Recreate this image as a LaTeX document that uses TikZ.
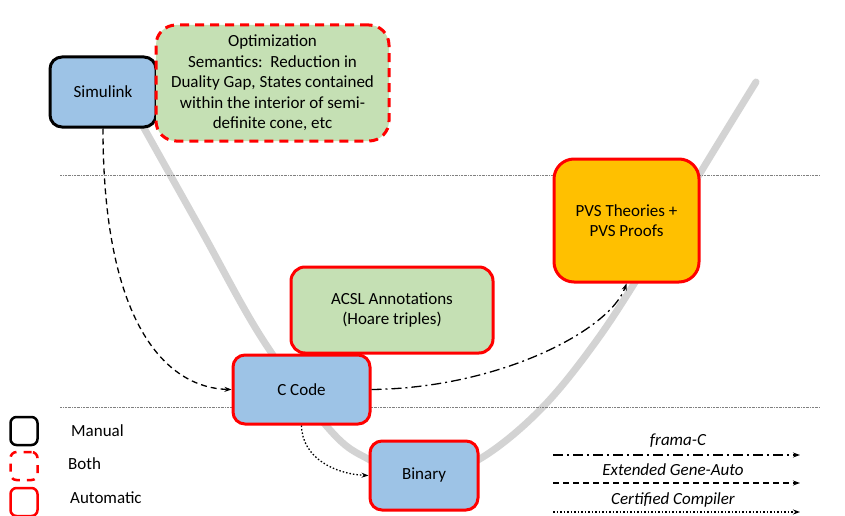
\documentclass[tikz,border=0pt]{standalone}
\usepackage{fontspec}
\setmainfont{Carlito}
\usetikzlibrary{arrows.meta}
\definecolor{bblue}{HTML}{9DC3E6}
\definecolor{bgreen}{HTML}{C5E0B4}
\definecolor{borange}{HTML}{FFC000}
\definecolor{bred}{HTML}{FF0000}
\definecolor{vgray}{HTML}{D3D3D3}
\begin{document}
\begin{tikzpicture}[x=1pt,y=-1pt,
  every node/.style={font=\fontsize{17}{20.5}\selectfont},
  box/.style={draw, line width=3pt, rounded corners=12pt, align=center, inner sep=0pt},
  manualbox/.style={box, draw=black},
  autobox/.style={box, draw=bred},
  bothbox/.style={box, draw=bred, dash pattern=on 9pt off 6pt},
  sep/.style={draw=gray, line width=0.6pt, dash pattern=on 2pt off 1pt on 0.5pt off 1pt},
  flow/.style={line width=1.3pt, -{Stealth[length=7pt,width=5pt]}},
  fdashdot/.style={flow, dash pattern=on 10pt off 4pt on 2pt off 4pt},
  fdashed/.style={flow, dash pattern=on 6pt off 4pt},
  fdotted/.style={flow, dash pattern=on 1.5pt off 2pt},
  lbl/.style={anchor=west, inner sep=0pt}
]
\useasboundingbox (0,0) rectangle (845,516);
% V curve
\draw[vgray, line width=7pt, line cap=round]
  plot[smooth, tension=0.6] coordinates {(135,112) (200,228) (263,340) (330,430) (370,460) (420,480) (478,460) (540,410) (597,340) (650,258) (699,175) (756,82)};
% separators
\coordinate (s1a) at (60,175); \coordinate (s1b) at (820,175);
\coordinate (s2a) at (60,407); \coordinate (s2b) at (820,407);
\draw[sep] (s1a) -- (s1b);
\draw[sep] (s2a) -- (s2b);
% boxes
\node[manualbox, fill=bblue, minimum width=106pt, minimum height=70pt] (sim) at (103,92) {Simulink};
\node[bothbox, fill=bgreen, rounded corners=20pt, minimum width=233pt, minimum height=116pt] (opt) at (272.5,83) {Optimization\\Semantics:\ \ Reduction in\\Duality Gap, States contained\\within the interior of semi-\\definite cone, etc};
\node[autobox, fill=borange, rounded corners=20pt, minimum width=145pt, minimum height=123pt] (pvs) at (626.5,220.5) {PVS Theories +\\PVS Proofs};
\node[autobox, fill=bgreen, rounded corners=14pt, minimum width=202pt, minimum height=86pt] (acsl) at (392,310) {ACSL Annotations\\(Hoare triples)};
\node[autobox, fill=bblue, minimum width=137pt, minimum height=69pt] (cc) at (301.5,389.5) {C Code};
\node[autobox, fill=bblue, minimum width=108pt, minimum height=69pt] (bin) at (424,475.5) {Binary};
% connectors
\draw[fdashed] (sim.south) .. controls (103,330) and (170,388) .. (cc.west);
\draw[fdashdot] (cc.east) .. controls (500,388) and (610,330) .. (pvs.south);
\draw[fdotted] (cc.south) .. controls (302,458) and (335,474) .. (bin.west);
% legend boxes
\node[manualbox, line width=2.5pt, rounded corners=6pt, minimum width=27pt, minimum height=28pt] (lm) at (24,431) {};
\node[bothbox, line width=2.5pt, rounded corners=6pt, dash pattern=on 8pt off 7pt, minimum width=27pt, minimum height=28pt] (lb) at (24,466) {};
\node[autobox, line width=2.5pt, rounded corners=6pt, minimum width=27pt, minimum height=28pt] (la) at (24,502) {};
\node[lbl] (tm) at (71,431) {Manual};
\node[lbl] (tb) at (68,464) {Both};
\node[lbl] (ta) at (70,498) {Automatic};
% legend lines
\coordinate (l1a) at (553,455); \coordinate (l1b) at (800,455);
\coordinate (l2a) at (553,483); \coordinate (l2b) at (800,483);
\coordinate (l3a) at (553,512); \coordinate (l3b) at (800,512);
\draw[fdashdot, line width=1.3pt] (l1a) -- (l1b);
\draw[fdashed, line width=1.3pt] (l2a) -- (l2b);
\draw[fdotted, line width=1.3pt] (l3a) -- (l3b);
\node (t1) at (678,441) {\itshape frama-C};
\node (t2) at (673,470) {\itshape Extended Gene-Auto};
\node (t3) at (673,500) {\itshape Certified Compiler};
\end{tikzpicture}
\end{document}
